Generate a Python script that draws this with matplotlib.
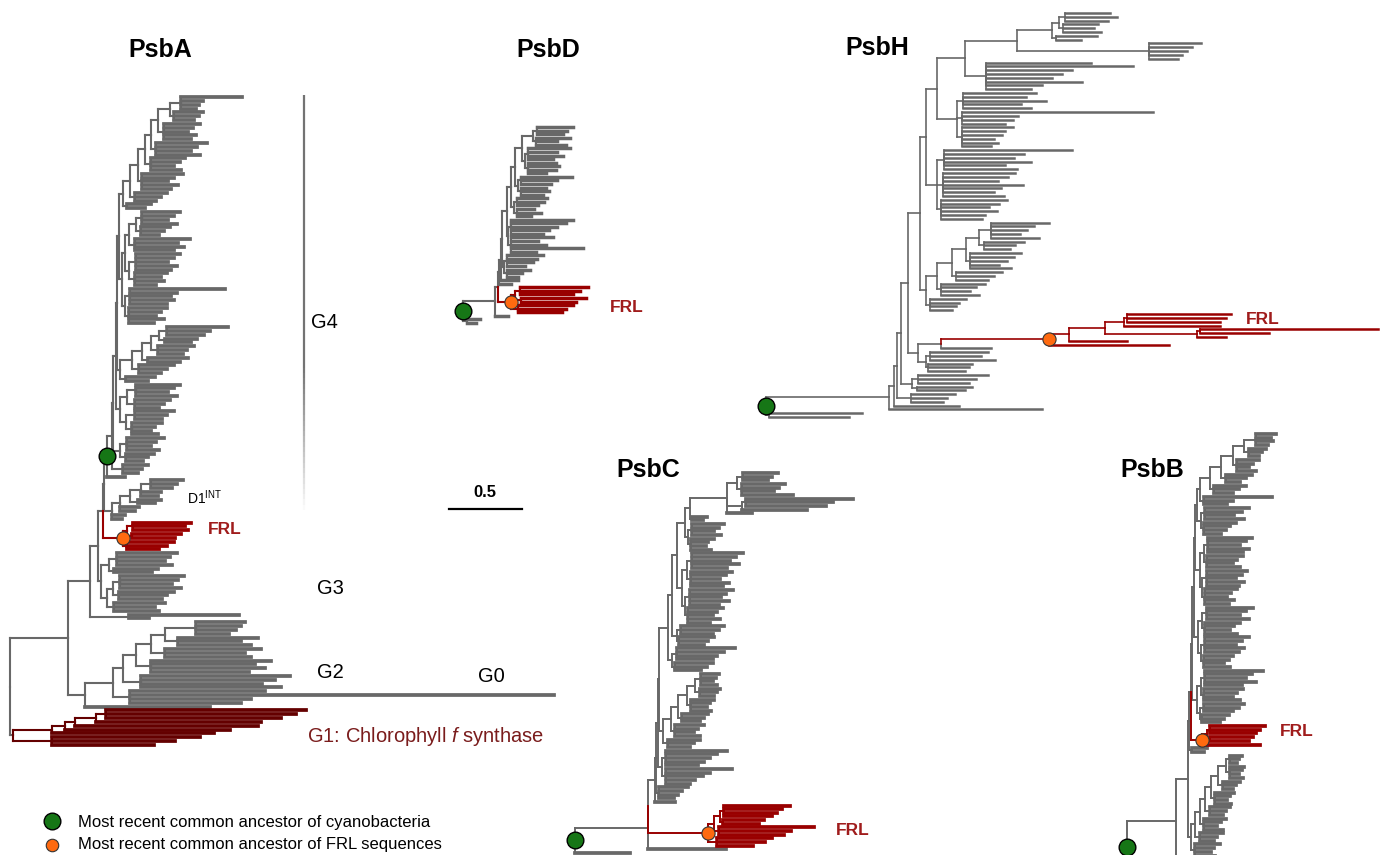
import matplotlib

# no display in the sandbox
matplotlib.use('Agg')

import matplotlib.pyplot as plt
from matplotlib.collections import LineCollection

plt.rcParams['font.family'] = ['Liberation Sans', 'DejaVu Sans']
plt.rcParams['mathtext.fontset'] = 'custom'
plt.rcParams['mathtext.rm'] = 'Liberation Sans'
plt.rcParams['mathtext.it'] = 'Liberation Sans:italic'

W, H = 1384, 855
PX_PER_SUB = 145.0          # pixels per substitution/site
SCALE_BAR = 0.5

GREY = '#686868'
FRL_RED = '#990000'
G1_RED = '#640000'
GREEN = '#167616'
ORANGE = '#ff6a10'
CLADE_COLOURS = {'FRL': FRL_RED, 'G1': G1_RED}
GREY_STEM = {'G1'}          # clades whose own stem stays grey


def ladder(top, steps, name=''):
    # caterpillar: every step hangs one more clade under the running node
    node = top
    for i, (clade, stem) in enumerate(steps):
        tag = name if i == len(steps) - 1 else ''
        node = '({},{}){}:{}'.format(node, clade, tag, stem)
    return node


# ---- trees, Newick, branch lengths in 0.01 subst/site, bare numbers are tips ----

# PsbA
PSBA_G1 = '((((((138,131,121):7,114):14,126):7,114):9,112):27,(102,85,70):27)G1:2'
PSBA_G2 = ladder('(34,31,28,23):21', [('(55,43,50):9', 10), ('(66,55,59):10', 10),
                                      ('(83,72,79,68):10', 9), ('(103,93,84,97):12', 7),
                                      ('(93,292,83,76):12', 19), ('86', 12)])
PSBA_G3 = '(((41,36,33,38):6,(30,26):4):5,(((44,40,36,42):5,(38,33,30):4):4,(35,28,31):5):4):2'
PSBA_FRL = '(((40,36,38):4,(34,30):3):3,(32,27,22):3)FRL:14'
PSBA_D1 = '(((((22,18,15):7,14,12):7,(16,12):5):7,13,10):6,9,7):5'
PSBA_G4_TOP = ladder('(42,15,12,10):8', [('(20,17,14):3', 8), ('(25,20,17,22,19):4', 5),
                                         ('(35,28,24,30):4', 4), ('(24,20,16,21):4', 5),
                                         ('(28,22,18,25,20):3', 5), ('(22,18,15):3', 5),
                                         ('(16,12):3', 3)])
PSBA_G4_REST = ladder('((26,22,18,24):4,(20,16,13):3):5',
                      [('(38,30,34,27):4', 3),
                       ('((30,26,22,28,24):5,(22,18,20,15):4):3', 2),
                       ('((65,32,28,30,25):4,(26,22,19,24,17):3):2', 2)])
PSBA_G4_STAIR = '((((((42,30,26):5,(22,18):4):6,(25,20,17):5):6,(28,22):4):7,(24,19,15):5):8,(20,15):4):2'
PSBA_G4_MID = '(((30,26,22,28):6,(24,20,17):5):5,((27,22,19):6,(21,16,13,18):4):4):3'
PSBA_G4_BASE_A = '((25,20,16,22):5,(19,15,12):4):5'
PSBA_G4_BASE_B = '(17,13,10):8'
PSBA_G4 = ladder(PSBA_G4_TOP, [(PSBA_G4_REST, 1), (PSBA_G4_STAIR, 1), (PSBA_G4_MID, 2),
                               (PSBA_G4_BASE_A, 1), (PSBA_G4_BASE_B, 3), ('12', 2)], name='MRCA')
PSBA = '(((((({},{}):1,{}):3,{}):6,(76,14):27):15,{}):40,{});'.format(
    PSBA_G4, PSBA_D1, PSBA_FRL, PSBA_G3, PSBA_G2, PSBA_G1)

# PsbD
PSBD_T1 = '((25,21,18):3,(24,15,21):2):7'
PSBD_T2 = '((29,20,24,17):2,(19,21,19,12):2):2'
PSBD_T3 = '((35,25,21):2,(17,19,15):2):2'
PSBD_T4 = '((21,19,15):2,(12,17,10):2):2'
PSBD_T5 = '((43,38,32,26,22):2,(29,19,24,50,17):2):1'
PSBD_T6 = '((25,21,18,13):2,(16,11,8):2):1'
PSBD_FRL = '(((47,42,37):3,(45,38):4):3,(38,33,30):5)FRL:9'
PSBD_MAIN = ladder(PSBD_T1, [(PSBD_T2, 5), (PSBD_T3, 3), (PSBD_T4, 3), (PSBD_T5, 3),
                             (PSBD_T6, 1), ('12', 1), ('8', 1)])
PSBD = '((({},{}):2,9):22,(9,6):3)MRCA;'.format(PSBD_MAIN, PSBD_FRL)

# PsbH
PSBH_TOP = '((((31,36,30):4,(24,21,26):3):5,(28,17):3):24,(36,30,26,23,20):91):36'
PSBH_P2 = '(72,101,59,52,45,66,38,31):15'
PSBH_P3 = '((50,43,57,40,47):4,(132,39,35,30):3,(35,30,28,22,25,20):3):14'
PSBH_P4 = '((88,55,48,60,42,50):5,(50,45,38,55,40,35,42):4,(45,40,33,38,30,28):3):8'
PSBH_P5 = ladder('(40,30,25,20,33):8', [('(28,22,18):3', 9), ('(35,30,25,20,28):3', 10),
                                        ('(32,26,22):3', 10), ('(30,24,20,26):3', 8),
                                        ('(25,20,18,15):3', 4)])
PSBH_FRL = '(((((72,68,64):2,66):13,((123,48):2,20):63):25,40):14,83)FRL:74'
PSBH_P6 = '(({},34):16,((40,35,45):3,(30,28,25):2):5):7'.format(PSBH_FRL)
PSBH_P7A = '((48,40,35):4,(38,33):3):8'
PSBH_P7B = '(30,25,22):10'
PSBH_MAIN = ladder('({},{}):19'.format(PSBH_TOP, PSBH_P2),
                   [(PSBH_P3, 8), (PSBH_P4, 4), (PSBH_P5, 8), (PSBH_P6, 5),
                    (PSBH_P7A, 3), (PSBH_P7B, 2), ('45', 3)])
PSBH = '(({},105):85,(64,55):2)MRCA;'.format(PSBH_MAIN)

# PsbC
PSBC_C1 = '((((24,20,17):4,(30,26,22,35):3):7,((74,60,55):3,45):10,17):26,(10,7):2):3'
PSBC_C2 = '((22,18,15,20):3,(16,12,10,14):2):2'
PSBC_C3 = '(((35,30,26,32,24):4,(28,24,20,26,22):3):3,((30,25,22,27,20):3,(24,20,17,22,15):2):2):4'
PSBC_C4 = '((30,26,22):3,(24,20,17):2):3'
PSBC_C5 = '((40,33,28,25):3,(26,22,18):2):3'
PSBC_C6 = ladder('(12,10,8,11):4', [('(14,12,10):3', 6), ('(16,13,11,14):3', 6),
                                    ('(18,15,12):3', 5), ('(20,16,13,17):3', 5),
                                    ('(22,18,15):3', 3)])
PSBC_C7 = '((42,35,30,26,22):3,(45,30,25,20,16):3):3'
PSBC_C8 = '(20,16,13,10):2'
PSBC_FRL = '((((45,40,36,33):3,(28,25):2):4,(66,50,45):3):4,(38,33,25):6)FRL:42'
PSBC_MAIN = ladder(PSBC_C1, [(PSBC_C2, 6), (PSBC_C3, 3), (PSBC_C4, 3), (PSBC_C5, 6),
                             (PSBC_C6, 1), (PSBC_C7, 1), (PSBC_C8, 1), ('14', 5)])
PSBC = '((({},{}):0,54):50,38)MRCA;'.format(PSBC_MAIN, PSBC_FRL)

# PsbB (tree runs on below the bottom edge)
PSBB_B1 = ladder('(14,10,12,8):8', [('(12,9,7):3', 8), ('(15,11,8,13):3', 8),
                                    ('(18,14,10):3', 8), ('(22,17,13):3', 7),
                                    ('(47,20,16):3', 2)])
PSBB_B2 = '((30,25,20,27):3,(22,18,15,12):2):3'
PSBB_B3 = '(((30,26,22,28,24):3,(25,21,18,23):2):3,((28,24,20,26,22):3,(22,18,15,20,16):2):2):3'
PSBB_B4 = '(((32,27,23,29):3,(24,20,17,22):2):3,((30,25,21,27,23):3,(20,17,14,18):2):2):3'
PSBB_B5 = '(((40,32,28,35,25):3,(27,23,20,25):2):3,((28,24,20):3,(18,15,12):2):2):3'
PSBB_FRL = '(((38,35,32):2,(30,27):2):3,40)FRL:8'
PSBB_B6 = ladder('(8,6,5):3', [('(10,8,6,9):3', 5), ('(12,9,7):3', 5), ('(13,10,8,11):3', 4),
                               ('(14,11,9):3', 4), ('(15,12,9,13):3', 3), ('(16,12,10):3', 3),
                               ('(17,13,11,14):3', 2)])
PSBB_MAIN = ladder(PSBB_B1, [(PSBB_B2, 1), (PSBB_B3, 1), (PSBB_B4, 1), (PSBB_B5, 1),
                             (PSBB_FRL, 1), ('(10,8):2', 1), (PSBB_B6, 8)])
PSBB = '(({},(30,25,20):5):34,(40,35):5)MRCA;'.format(PSBB_MAIN)


def parse_newick(text):
    s = ''.join(text.split()).rstrip(';')
    pos = 0

    def node():
        nonlocal pos
        children = []
        if s[pos] == '(':
            pos += 1
            while True:
                children.append(node())
                ch = s[pos]
                pos += 1
                if ch == ')':
                    break
        start = pos
        while pos < len(s) and s[pos] not in ':,)':
            pos += 1
        name = s[start:pos]
        length = 0.0
        if pos < len(s) and s[pos] == ':':
            pos += 1
            start = pos
            while pos < len(s) and s[pos] not in ',)':
                pos += 1
            length = float(s[start:pos])
        elif not children and name:
            length, name = float(name), ''
        return {'name': name, 'len': length / 100.0, 'children': children}

    return node()


def count_leaves(n):
    if not n['children']:
        return 1
    return sum(count_leaves(c) for c in n['children'])


fig = plt.figure(figsize=(W / 100, H / 100), dpi=100)


def draw_tree(newick, root_x, top_y, bottom_y, lw=1.5, tip_lw=2.7):
    tree = parse_newick(newick)
    dy = (bottom_y - top_y) / (count_leaves(tree) - 1)
    ax = fig.add_axes([0, 0, 1, 1])
    ax.set_xlim(-root_x / PX_PER_SUB, (W - root_x) / PX_PER_SUB)
    ax.set_ylim((H - top_y) / dy, -top_y / dy)
    ax.axis('off')
    segs = []            # (segment, colour, is_tip)
    marks = []
    leaf = [0]

    def walk(n, x_parent, colour):
        own = CLADE_COLOURS.get(n['name'], colour)
        stem = colour if n['name'] in GREY_STEM else own
        x = x_parent + n['len']
        if n['children']:
            kids = [walk(c, x, own) for c in n['children']]
            y = (kids[0][0] + kids[-1][0]) / 2
            for ky, kc in kids:
                segs.append(([(x, y), (x, ky)], kc, False))
        else:
            y = leaf[0]
            leaf[0] += 1
        if n['len'] > 0:
            segs.append(([(x_parent, y), (x, y)], stem, not n['children']))
        if n['name'] in ('MRCA', 'FRL'):
            marks.append((x, y, n['name']))
        return y, stem

    walk(tree, 0.0, GREY)
    for coloured in (False, True):
        for tip in (False, True):
            part = [s for s in segs if (s[1] != GREY) == coloured and s[2] == tip]
            if part:
                ax.add_collection(LineCollection([p[0] for p in part], colors=[p[1] for p in part],
                                                 linewidths=tip_lw if tip else lw,
                                                 capstyle='projecting'))
    for x, y, name in marks:
        if name == 'MRCA':
            ax.plot(x, y, 'o', ms=12, mfc=GREEN, mec='black', mew=1, zorder=5)
        else:
            ax.plot(x, y, 'o', ms=9.5, mfc=ORANGE, mec='#333333', mew=0.8, zorder=5)
    return ax


draw_tree(PSBA, 10, 97, 745)
draw_tree(PSBD, 463, 127, 323, tip_lw=2.5)
draw_tree(PSBH, 766, 13, 417, lw=1.2, tip_lw=1.8)
draw_tree(PSBC, 575, 473, 853, lw=1.4)
draw_tree(PSBB, 1127, 434, 874, lw=1.4)

# overlay in pixel units for bracket, scale bar and legend
ov = fig.add_axes([0, 0, 1, 1])
ov.set_xlim(0, W)
ov.set_ylim(H, 0)
ov.axis('off')

# G4 bracket fading out at the bottom
g4_segs, g4_alpha = [], []
n_seg = 80
for i in range(n_seg):
    y0 = 95 + (515 - 95) * i / n_seg
    y1 = 95 + (515 - 95) * (i + 1) / n_seg
    g4_segs.append([(304, y0), (304, y1)])
    g4_alpha.append(min(1.0, max(0.0, (515 - y1) / (515 - 370))))
ov.add_collection(LineCollection(g4_segs, colors=[(0.45, 0.45, 0.45, a) for a in g4_alpha],
                                 linewidths=1.6))

ov.plot([449, 449 + SCALE_BAR * PX_PER_SUB], [509, 509], color='black', lw=1.6)
ov.plot(52, 821, 'o', ms=12, mfc=GREEN, mec='black', mew=1)
ov.plot(52, 845, 'o', ms=9, mfc=ORANGE, mec='#333333', mew=0.8)


def label(x, y, s, ha='center', **kw):
    fig.text(x / W, 1 - y / H, s, ha=ha, va='center', **kw)


for name, x, y in [('PsbA', 160, 50), ('PsbD', 548, 50), ('PsbH', 877, 48),
                   ('PsbC', 648, 470), ('PsbB', 1152, 470)]:
    label(x, y, name, fontsize=18, fontweight='bold')

for x, y in [(225, 530), (627, 308), (1263, 320), (853, 830), (1297, 731)]:
    label(x, y, 'FRL', fontsize=12.5, fontweight='bold', color='#a01c1c')

label(311, 322, 'G4', ha='left', fontsize=14.5)
label(317, 588, 'G3', ha='left', fontsize=14.5)
label(317, 672, 'G2', ha='left', fontsize=14.5)
label(478, 676, 'G0', ha='left', fontsize=14.5)
label(307, 736, 'G1: Chlorophyll $\\it{f}$ synthase', ha='left', fontsize=14.5, color='#7a1c1c')
label(187, 498, 'D1$^{\\mathregular{INT}}$', ha='left', fontsize=10)
label(485, 492, '0.5', fontsize=12, fontweight='bold')
label(78, 822, 'Most recent common ancestor of cyanobacteria', ha='left', fontsize=12)
label(78, 844, 'Most recent common ancestor of FRL sequences', ha='left', fontsize=12)

fig.savefig('out.png', dpi=100)
